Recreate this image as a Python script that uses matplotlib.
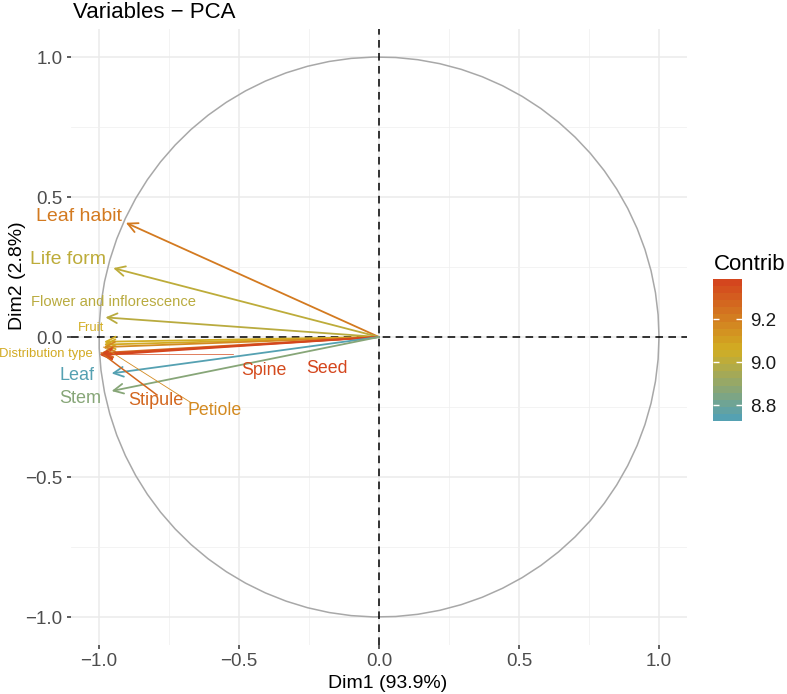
import numpy as np
import matplotlib
matplotlib.use("Agg")
import matplotlib.pyplot as plt
from matplotlib.colors import LinearSegmentedColormap, Normalize
from matplotlib.cm import ScalarMappable

plt.rcParams["font.family"] = ["Liberation Sans", "DejaVu Sans"]

# variable coordinates on Dim1 / Dim2 and their contribution
variables = ["Leaf habit", "Life form", "Flower and inflorescence", "Fruit",
             "Distribution type", "Petiole", "Stipule", "Spine", "Seed",
             "Leaf", "Stem"]
dim1 = [-0.904, -0.949, -0.977, -0.982, -0.983, -0.984, -0.992, -0.995, -0.996,
        -0.955, -0.955]
dim2 = [0.408, 0.246, 0.070, -0.017, -0.027, -0.036, -0.057, -0.061, -0.065,
        -0.130, -0.193]
contrib = [9.22, 9.00, 8.99, 9.06, 9.07, 9.17, 9.28, 9.37, 9.386, 8.726, 8.86]

ticks = [-1.0, -0.5, 0.0, 0.5, 1.0]
cbar_ticks = [8.8, 9.0, 9.2]

# label placement (repelled text) and segment ends
label_pos = {
    "Leaf habit": (-1.073, 0.432, 14),
    "Life form": (-1.112, 0.275, 14),
    "Flower and inflorescence": (-0.948, 0.126, 10.6),
    "Fruit": (-1.029, 0.031, 9.4),
    "Distribution type": (-1.189, -0.062, 9.4),
    "Petiole": (-0.587, -0.264, 12.8),
    "Stipule": (-0.798, -0.228, 13),
    "Spine": (-0.412, -0.118, 12.8),
    "Seed": (-0.186, -0.111, 12.8),
    "Leaf": (-1.079, -0.138, 13),
    "Stem": (-1.067, -0.218, 13),
}
segments = {
    "Stipule": ((-0.793, -0.207), 1.1),
    "Petiole": ((-0.669, -0.236), 0.6),
    "Spine": ((-0.521, -0.061), 0.5),
}

cmap = LinearSegmentedColormap.from_list(
    "contrib", ["#55A1B2", "#D2AE22", "#D4461E"])
norm = Normalize(vmin=min(contrib), vmax=max(contrib))

fig = plt.figure(figsize=(7.87, 6.94), dpi=100)
W, H = 787, 694
ax = fig.add_axes([71 / W, 1 - 645 / H, 616 / W, 616 / H])
ax.set_xlim(-1.1, 1.1)
ax.set_ylim(-1.1, 1.1)

# grid, minimal theme
ax.set_xticks(ticks)
ax.set_yticks(ticks)
ax.set_xticks([-0.75, -0.25, 0.25, 0.75], minor=True)
ax.set_yticks([-0.75, -0.25, 0.25, 0.75], minor=True)
ax.grid(True, which="major", color="#EBEBEB", lw=1.1, zorder=0)
ax.grid(True, which="minor", color="#F0F0F0", lw=0.55, zorder=0)
ax.set_axisbelow(True)
for sp in ax.spines.values():
    sp.set_visible(False)
fmt = [f"{t:.1f}".replace("-", "\u2212") for t in ticks]
ax.set_xticklabels(fmt)
ax.set_yticklabels(fmt)
ax.tick_params(which="major", length=3, width=1.1, color="#333333",
               labelsize=13.5, labelcolor="#4D4D4D", pad=3)
ax.tick_params(which="minor", length=0)

# correlation circle
theta = np.linspace(0, 2 * np.pi, 80)
ax.plot(np.cos(theta), np.sin(theta), color="#A8A8A8", lw=1.1, zorder=1)

ax.axhline(0, color="black", lw=1.1, ls=(0, (5, 3.5)), zorder=2)
ax.axvline(0, color="black", lw=1.1, ls=(0, (5, 3.5)), zorder=2)

# arrows
for name, x, y, c in zip(variables, dim1, dim2, contrib):
    col = cmap(norm(c))
    ax.annotate("", xy=(x, y), xytext=(0, 0),
                arrowprops=dict(arrowstyle="->,head_length=0.7,head_width=0.35",
                                color=col, lw=1.3, shrinkA=0, shrinkB=0),
                zorder=3)

# repel segments and labels
for name, x, y, c in zip(variables, dim1, dim2, contrib):
    col = cmap(norm(c))
    if name in segments:
        (ex, ey), slw = segments[name]
        ax.plot([x, ex], [y, ey], color=col, lw=slw, zorder=3)
    lx, ly, fs = label_pos[name]
    ax.text(lx, ly, name, color=col, fontsize=fs, ha="center", va="center",
            zorder=4, clip_on=False)

fig.text(73 / W, 1 - 12 / H, "Variables \u2212 PCA", fontsize=16,
         ha="left", va="center")
fig.text(388 / W, 1 - 683 / H, "Dim1 (93.9%)", fontsize=14,
         ha="center", va="center")
fig.text(18 / W, 1 - 276 / H, "Dim2 (2.8%)", fontsize=14, rotation=90,
         ha="center", va="center")

# colour bar legend
cax = fig.add_axes([713 / W, 1 - 421 / H, 29 / W, 142 / H])
sm = ScalarMappable(norm=norm, cmap=cmap.resampled(20))
cb = fig.colorbar(sm, cax=cax, ticks=cbar_ticks)
cb.outline.set_visible(False)
cax.set_yticklabels([f"{t:.1f}" for t in cbar_ticks])
cax.tick_params(left=True, right=True, direction="in", color="white",
                length=4, width=1.0, labelsize=13.5, labelcolor="#1A1A1A",
                pad=6)
fig.text(714 / W, 1 - 265 / H, "Contrib", fontsize=16, ha="left",
         va="center")

fig.savefig("out.png", dpi=100)
